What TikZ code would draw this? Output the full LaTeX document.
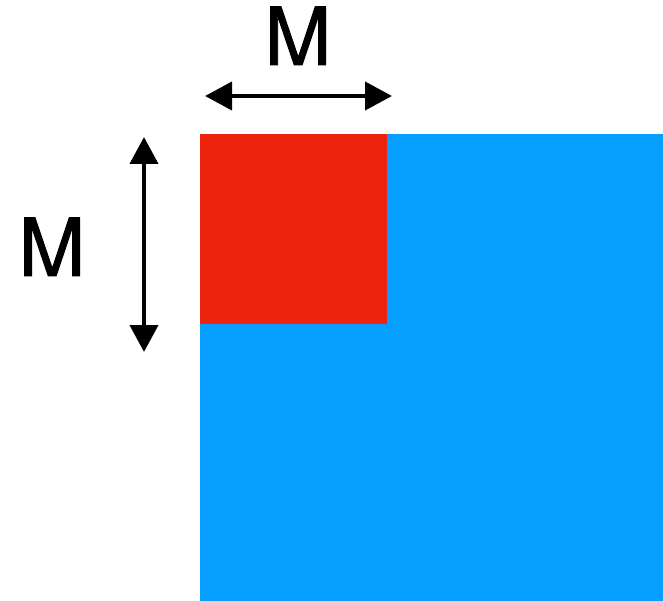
\documentclass[tikz,border=0pt]{standalone}
\usepackage{fontspec}
\setmainfont{TeX Gyre Heros}
\newfontfamily\mfont[FakeBold=1.2]{TeX Gyre Heros}
\usetikzlibrary{arrows.meta}
\definecolor{bigblue}{RGB}{6,158,255}
\definecolor{smallred}{RGB}{238,35,14}
\begin{document}
\begin{tikzpicture}[x=1pt,y=-1pt,
  dimarrow/.style={line width=4pt,{Triangle[length=27pt,width=28pt]}-{Triangle[length=27pt,width=28pt]}},
  label/.style={anchor=base,inner sep=0pt,font=\mfont\fontsize{80}{80}\selectfont}]
\useasboundingbox (0,0) rectangle (663,601);
\fill[bigblue] (200,134) rectangle (663,601);
\fill[smallred] (200,134) rectangle (387,324);
\coordinate (hl) at (205,96);
\coordinate (hr) at (392,96);
\coordinate (vt) at (144,137);
\coordinate (vb) at (144,352);
\draw[dimarrow] (hl) -- (hr);
\draw[dimarrow] (vt) -- (vb);
\node[label] (mtop) at (298,65) {M};
\node[label] (mleft) at (52,276) {M};
\end{tikzpicture}
\end{document}
